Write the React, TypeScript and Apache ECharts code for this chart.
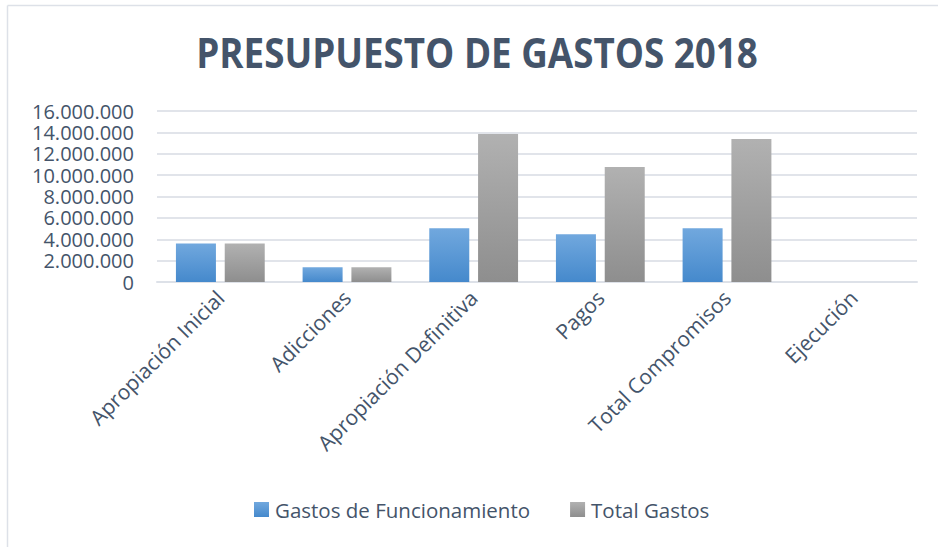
import React, { useEffect, useRef } from "react";
import * as echarts from "echarts";

const categories = [
  "Apropiación Inicial",
  "Adicciones",
  "Apropiación Definitiva",
  "Pagos",
  "Total Compromisos",
  "Ejecución",
];
const gastosFuncionamiento = [3600000, 1380000, 5030000, 4470000, 5030000, 0];
const totalGastos = [3600000, 1380000, 13840000, 10750000, 13370000, 0];
const seriesNames = ["Gastos de Funcionamiento", "Total Gastos"];
const titleText = "PRESUPUESTO DE GASTOS 2018";

const TEXT = "#44546A";
const FONT = "Open Sans";

const fmt = (v: number) =>
  String(Math.round(v)).replace(/\B(?=(\d{3})+(?!\d))/g, ".");

const grad = (top: string, bottom: string) =>
  new echarts.graphic.LinearGradient(0, 0, 0, 1, [
    { offset: 0, color: top },
    { offset: 1, color: bottom },
  ]);

export default function App() {
  const ref = useRef<HTMLDivElement>(null);

  useEffect(() => {
    document.body.style.margin = "0";
    const chart = echarts.init(ref.current!, null, { renderer: "svg" });
    chart.setOption({
      animation: false,
      backgroundColor: "#ffffff",
      graphic: [
        {
          type: "line",
          shape: { x1: 7.5, y1: 5.5, x2: 938, y2: 5.5 },
          style: { stroke: "#DDE1E8", lineWidth: 1.5 },
        },
        {
          type: "line",
          shape: { x1: 7.5, y1: 5.5, x2: 7.5, y2: 547 },
          style: { stroke: "#DDE1E8", lineWidth: 1.5 },
        },
        {
          type: "text",
          x: 477,
          y: 52,
          scaleX: 0.875,
          style: {
            text: titleText,
            fontFamily: FONT,
            fontWeight: "bold",
            fontSize: 42,
            fill: TEXT,
            align: "center",
            verticalAlign: "middle",
          },
        },
      ],
      legend: {
        left: 254,
        top: 499,
        padding: 0,
        itemWidth: 15,
        itemHeight: 15,
        itemGap: 40,
        icon: "rect",
        textStyle: { color: TEXT, fontFamily: FONT, fontSize: 20.5, padding: [0, 0, 0, 1] },
        data: seriesNames,
      },
      grid: { left: 157, right: 21, top: 111, bottom: 265 },
      xAxis: {
        type: "category",
        data: categories,
        axisLine: { lineStyle: { color: "#DDE1E8", width: 2 } },
        axisTick: { show: false },
        axisLabel: {
          rotate: 45,
          interval: 0,
          margin: 12,
          color: TEXT,
          fontFamily: FONT,
          fontSize: 21,
        },
      },
      yAxis: {
        type: "value",
        min: 0,
        max: 16000000,
        interval: 2000000,
        axisLine: { show: false },
        axisTick: { show: false },
        splitLine: { lineStyle: { color: "#E1E4EA", width: 2 } },
        axisLabel: {
          margin: 23,
          color: TEXT,
          fontFamily: FONT,
          fontSize: 20,
          lineHeight: 20,
          formatter: (v: number) => fmt(v),
        },
      },
      series: [
        {
          name: seriesNames[0],
          type: "bar",
          data: gastosFuncionamiento,
          barWidth: 40,
          barGap: "22%",
          itemStyle: { color: grad("#71A8DE", "#4589CC") },
        },
        {
          name: seriesNames[1],
          type: "bar",
          data: totalGastos,
          barWidth: 40,
          itemStyle: { color: grad("#B1B1B1", "#8E8E8E") },
        },
      ],
    });
    return () => chart.dispose();
  }, []);

  return <div ref={ref} style={{ width: 938, height: 547 }} />;
}
